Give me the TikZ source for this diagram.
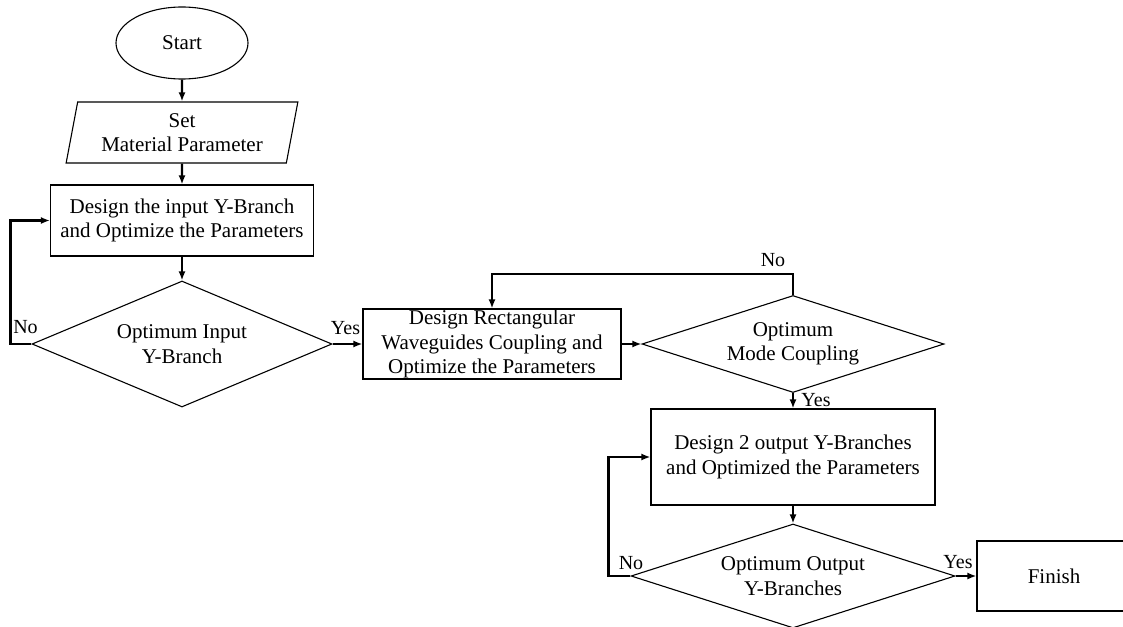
\documentclass[tikz,border=0pt]{standalone}
\usepackage{fontspec}
\setmainfont{Liberation Serif}
\usetikzlibrary{shapes.geometric,arrows.meta}
\begin{document}
\begin{tikzpicture}[x=1pt,y=-1pt,
  txt/.style={font=\fontsize{21}{24.5}\selectfont,align=center,inner sep=0pt},
  shp/.style={txt,draw,line width=1.1pt},
  box/.style={shp,rectangle},
  dec/.style={shp,diamond},
  conn/.style={line width=2.4pt,-{Latex[length=9pt,width=7pt]}},
  lbl/.style={font=\fontsize{20}{24}\selectfont,inner sep=0pt,anchor=base}
]
\useasboundingbox (0,0) rectangle (1123,626);

\node[shp,ellipse,minimum width=132pt,minimum height=72pt] (start) at (182,43) {Start};
\node[shp,trapezium,trapezium left angle=77,trapezium right angle=103,trapezium stretches=true,minimum width=232pt,minimum height=61pt] (param) at (182,132.5) {Set\\Material Parameter};
\node[box,minimum width=263pt,minimum height=71pt] (rect1) at (182,220.5) {Design the input Y-Branch\\and Optimize the Parameters};
\node[dec,aspect=2.4,minimum width=300pt,minimum height=126pt] (dia1) at (182,344) {Optimum Input\\Y-Branch};
\node[box,minimum width=258pt,minimum height=70pt] (rect2) at (492,344) {Design Rectangular\\Waveguides Coupling and\\Optimize the Parameters};
\node[dec,aspect=3,minimum width=302pt,minimum height=97pt] (dia2) at (793,344) {Optimum\\Mode Coupling};
\node[box,minimum width=284pt,minimum height=96pt] (rect3) at (793,457) {Design 2 output Y-Branches\\and Optimized the Parameters};
\node[dec,aspect=3.1,minimum width=324pt,minimum height=104pt] (dia3) at (793,576) {Optimum Output\\Y-Branches};
\node[box,minimum width=154pt,minimum height=70pt] (finish) at (1054,576) {Finish};

\draw[conn] (start) -- (param);
\draw[conn] (param) -- (rect1);
\draw[conn] (rect1) -- (dia1);
\draw[conn] (dia1.west) -- ++(-21,0) |- (rect1.west);
\draw[conn] (dia1.east) -- (rect2.west);
\draw[conn] (rect2.east) -- (dia2.west);
\draw[conn] (dia2.north) -- ++(0,-21) -| (rect2.north);
\draw[conn] (dia2.south) -- (rect3.north);
\draw[conn] (rect3.south) -- (dia3.north);
\draw[conn] (dia3.west) -- ++(-22,0) |- (rect3.west);
\draw[conn] (dia3.east) -- (finish.west);

\node[lbl] (no1) at (25.5,333) {No};
\node[lbl] (yes1) at (345.5,334) {Yes};
\node[lbl] (no2) at (773,266) {No};
\node[lbl] (yes2) at (816,406) {Yes};
\node[lbl] (no3) at (631,569) {No};
\node[lbl] (yes3) at (958,568) {Yes};
\end{tikzpicture}
\end{document}
